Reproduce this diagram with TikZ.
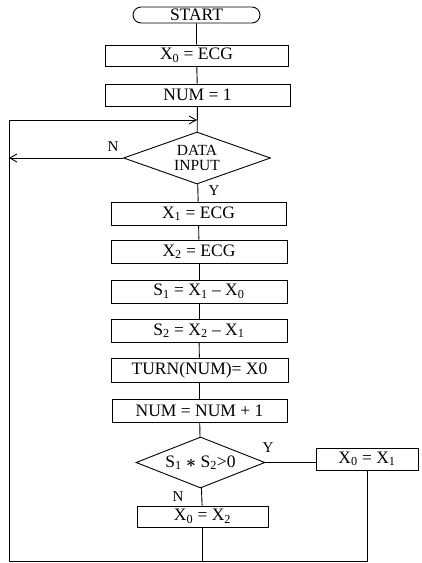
\documentclass[tikz,border=0pt]{standalone}
\usepackage{fontspec}
\setmainfont{Liberation Serif}
\usetikzlibrary{shapes.geometric,shapes.misc,arrows.meta}
\newcommand{\sbx}[1]{\textsubscript{#1}}
\begin{document}
\begin{tikzpicture}[x=1pt,y=-1pt,
  line width=0.9pt,
  every node/.style={font=\fontsize{17.5}{14}\selectfont},
  procbox/.style={draw,rectangle,inner sep=0pt,minimum width=176pt,minimum height=23pt},
  termbox/.style={draw,rounded rectangle,inner sep=0pt,minimum width=127pt,minimum height=16pt},
  decbox/.style={draw,diamond,inner sep=0pt,align=center,aspect=2.6},
  lbl/.style={font=\fontsize{15}{15}\selectfont},
  arr/.style={-{Straight Barb[length=7pt,width=8pt]}}]
\useasboundingbox (0,0) rectangle (421,563);
\node[termbox] (start) at (196.5,15) {START};
\node[procbox,minimum width=183pt,minimum height=21pt] (b0) at (196.5,55.5) {X\sbx{0} = ECG};
\node[procbox,minimum width=185pt,minimum height=22pt] (b1) at (197.5,95) {NUM = 1};
\node[decbox,aspect=2.83,minimum width=147pt,minimum height=52pt,font=\fontsize{15.5}{14.5}\selectfont] (d1) at (197,158) {DATA\\INPUT};
\node[procbox,minimum width=175pt] (b2) at (198.5,213.5) {X\sbx{1} = ECG};
\node[procbox] (b3) at (199,251.5) {X\sbx{2} = ECG};
\node[procbox] (b4) at (199,291.5) {S\sbx{1} = X\sbx{1} -- X\sbx{0}};
\node[procbox] (b5) at (199,330.5) {S\sbx{2} = X\sbx{2} -- X\sbx{1}};
\node[procbox,minimum width=177pt,minimum height=24pt] (b6) at (199.5,370) {TURN(NUM)= X0};
\node[procbox,minimum width=175pt] (b7) at (199.5,410.5) {NUM = NUM + 1};
\node[decbox,aspect=2.53,minimum width=129pt,minimum height=51pt] (d2) at (200.5,462.5) {S\sbx{1} \smash{\LARGE\boldmath$\ast$} S\sbx{2}>0};
\node[procbox,minimum width=102pt,minimum height=22pt] (b8) at (367,459) {X\sbx{0} = X\sbx{1}};
\node[procbox,minimum width=131pt,minimum height=21pt] (b9) at (202.5,516.5) {X\sbx{0} = X\sbx{2}};
\coordinate (tl) at (9,120);
\coordinate (jn) at (197,120);
\coordinate (nl) at (9,158);
\coordinate (bl) at (9,561);
\draw (start) -- (b0);
\draw (b0) -- (b1);
\draw (b1) -- (d1);
\draw (d1) -- (b2);
\draw (b2) -- (b3);
\draw (b3) -- (b4);
\draw (b4) -- (b5);
\draw (b5) -- (b6);
\draw (b6) -- (b7);
\draw (b7) -- (d2);
\draw (d2) -- (b9);
\draw (d2.east) -- (d2.east -| b8.west);
\draw[arr] (tl) -- (jn);
\draw[arr] (d1.west) -- (nl);
\draw (b9.south) -- (b9.south |- bl);
\draw (b8.south) -- (b8.south |- bl) -- (bl) -- (tl);
\node[lbl] (ln1) at (113,147) {N};
\node[lbl] (ly1) at (214,191) {Y};
\node[lbl] (ly2) at (268,448) {Y};
\node[lbl] (ln2) at (178,497) {N};
\end{tikzpicture}
\end{document}
